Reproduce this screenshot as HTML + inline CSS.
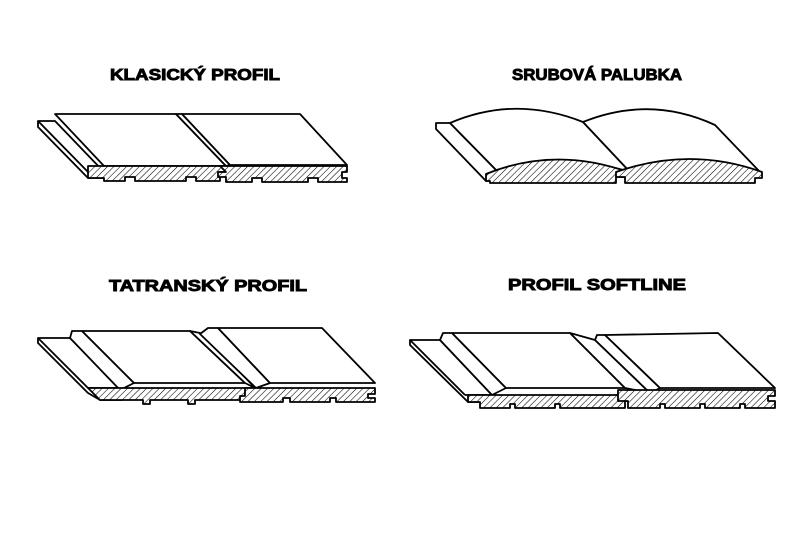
<!DOCTYPE html>
<html><head><meta charset="utf-8"><style>
html,body{margin:0;padding:0;background:#fff}
svg{display:block}
text{font-family:"Liberation Sans",sans-serif;font-weight:bold;font-size:16px;fill:#000}
</style></head><body>
<svg width="800" height="534" viewBox="0 0 800 534">
<defs>
<pattern id="h" patternUnits="userSpaceOnUse" width="4.5" height="4.5" patternTransform="rotate(45)">
<rect width="5" height="5" fill="#fff"/><line x1="0" y1="0" x2="0" y2="5" stroke="#000" stroke-width="1.1"/>
</pattern>
</defs>
<g stroke="#000" stroke-width="0.9">
<text x="110" y="80" textLength="170" lengthAdjust="spacingAndGlyphs">KLASICKÝ PROFIL</text>
<text x="512" y="80" textLength="170" lengthAdjust="spacingAndGlyphs">SRUBOVÁ PALUBKA</text>
<text x="109" y="291" textLength="198" lengthAdjust="spacingAndGlyphs">TATRANSKÝ PROFIL</text>
<text x="508" y="290" textLength="178" lengthAdjust="spacingAndGlyphs">PROFIL SOFTLINE</text>
</g>

<g fill="#fff" stroke="#000" stroke-width="1.8" stroke-linejoin="round">
<!-- KLASICKY -->
<polygon points="38,121 55,121 104,172 104,178 88,178 38,127"/>
<line x1="38" y1="121" x2="88" y2="172"/><line x1="88" y1="172" x2="104" y2="172"/>
<polygon points="55,114 176,114 226,166 104,166 55,114"/>
<polygon points="176,114 182,114 230,165 226,166"/>
<polygon points="182,114 300,114 347,165 230,165"/>
<path d="M88,166 H226 V172 H220 V181 H196 V177 H186 V181 H135 V177 H125 V181 H104 V178 H88 Z" fill="url(#h)"/>
<path d="M220,166 H347 V172 H342 V178 H347 V182 H318 V178 H308 V182 H262 V178 H252 V182 H226 V177 H218 V172 H226 Z" fill="url(#h)"/>

<!-- SRUBOVA -->
<polygon points="436,123 450,123 500,174 500,181 486,181 436,129"/>
<path d="M450,123 Q515,95 583,122 L630,172 Q560,150 500,174 Z"/>
<path d="M583,122 Q650,95 715,125 L760,172 Q690,150 630,172 Z"/>
<path d="M486,174 Q555,146 628,172 V177 H616 V183 H490 V181 H486 Z" fill="url(#h)"/>
<path d="M616,172 Q690,146 762,172 V178 H755 V183 H625 V177 H616 Z" fill="url(#h)"/>

<!-- TATRANSKY -->
<polygon points="38,338 70,338 122,390 122,400 100,400 88,393 38,343"/>
<line x1="38" y1="338" x2="88" y2="388"/><line x1="88" y1="388" x2="118" y2="388"/>
<polygon points="70,338 72,331 82,331 134,383 120,390"/>
<polygon points="82,331 190,331 245,383 134,383"/>
<polygon points="190,331 205,334 255,388 245,383"/>
<polygon points="200,334 208,328 218,328 270,383 256,388"/>
<polygon points="218,328 322,328 375,383 270,383"/>
<path d="M88,388 H256 V394 H245 V400 H195 V404 H188 V400 H150 V404 H143 V400 H100 Z" fill="url(#h)"/>
<path d="M245,388 H375 V394 H368 V398 H375 V402 H336 V398 H330 V402 H290 V398 H283 V402 H240 V396 H245 Z" fill="url(#h)"/>

<!-- SOFTLINE -->
<polygon points="410,340 440,340 492,395 492,402 468,402 410,345"/>
<line x1="410" y1="340" x2="465" y2="395"/><line x1="465" y1="395" x2="492" y2="395"/>
<polygon points="440,340 443,333 452,333 506,388 492,395"/>
<polygon points="452,333 570,333 625,388 506,388"/>
<polygon points="570,333 595,340 650,393 625,388"/>
<polygon points="595,340 597,335 605,335 660,388 650,393"/>
<polygon points="605,335 718,333 775,388 660,388"/>
<path d="M468,395 H638 V401 H625 V408 H560 V404 H555 V408 H515 V404 H510 V408 H480 V402 H468 Z" fill="url(#h)"/>
<path d="M618,390 H775 V396 H768 V401 H775 V408 H745 V404 H740 V408 H705 V404 H700 V408 H665 V404 H660 V408 H628 V401 H618 Z" fill="url(#h)"/>
</g>
</svg>
</body></html>
